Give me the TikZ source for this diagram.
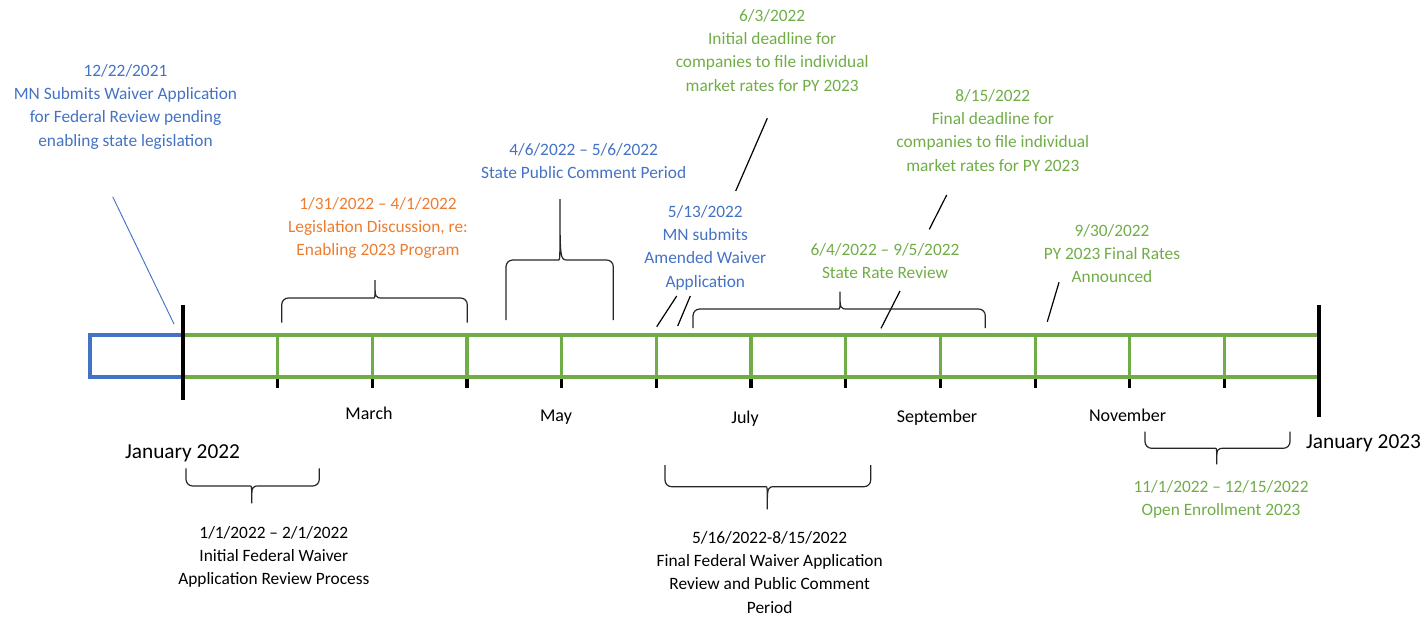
\documentclass[tikz,border=0pt]{standalone}
\usepackage{fontspec}
\setmainfont{Carlito}
\usepackage{tikz}
\definecolor{mnblue}{HTML}{4472C4}
\definecolor{mnorange}{HTML}{ED7D31}
\definecolor{mngreen}{HTML}{70AD47}
\def\monthsep{94.67}
% word-like curly bracket: x1, x2, y of arms, y of bar, x of tip, y of tip
\newcommand{\wbrace}[6]{\draw[brc] (#1,#3) [rounded corners=5pt] |- (#5-8,#4) [sharp corners] .. controls (#5,#4) .. (#5,#6) .. controls (#5,#4) .. (#5+8,#4) [rounded corners=5pt] -| (#2,#3);}

\begin{document}
\begin{tikzpicture}[x=0.75pt,y=-0.75pt]
		\tikzstyle{lbl}=[inner sep=0pt, anchor=base, align=center, font=\fontsize{13}{17.55}\selectfont]
		\tikzstyle{mon}=[inner sep=0pt, anchor=base, font=\fontsize{13.5}{16}\selectfont]
		\tikzstyle{yr}=[inner sep=0pt, anchor=base, font=\fontsize{16}{19}\selectfont]
		\tikzstyle{rail}=[mngreen, line width=2.3pt]
		\tikzstyle{bar}=[black, line width=2.3pt]
		\tikzstyle{brc}=[black!85, line width=0.9pt]
		\tikzstyle{ptr}=[black, line width=0.9pt]

		\useasboundingbox (0,0) rectangle (1426,618);

		% Draw the timeline
		\draw[mnblue, line width=2.3pt] (183,335) -- (90,335) -- (90,377) -- (183,377);
		\foreach \i in {1,...,11} {
			\draw[bar] (183+\i*\monthsep,378) -- (183+\i*\monthsep,388);
			\draw[rail] (183+\i*\monthsep,335) -- (183+\i*\monthsep,377);
		}
		\draw[rail] (183,335) -- (1319,335);
		\draw[rail] (183,377) -- (1319,377);
		\draw[bar] (183,305) -- (183,400);
		\draw[bar] (1319,305) -- (1319,417);

		% Draw month names
		\node[yr] (jan22) at (182.5,458) {January 2022};
		\node[mon] (mar) at (369,419.5) {March};
		\node[mon] (may) at (556,421.5) {May};
		\node[mon] (jul) at (745,423.5) {July};
		\node[mon] (sep) at (937,422.5) {September};
		\node[mon] (nov) at (1127.5,421.5) {November};
		\node[yr] (jan23) at (1363.5,448.5) {January 2023};

		% Draw labels above (placed at the baseline of their last line)
		\node[lbl, mnblue] (waiver) at (125.5,146.2) {12/22/2021\\MN Submits Waiver Application\\for Federal Review pending\\enabling state legislation};
		\node[lbl, mnorange] (legis) at (378,255.8) {1/31/2022 – 4/1/2022\\Legislation Discussion, re:\\Enabling 2023 Program};
		\node[lbl, mnblue] (comment) at (583.6,178.4) {4/6/2022 – 5/6/2022\\State Public Comment Period};
		\node[lbl, mngreen] (initdl) at (772.2,91.2) {6/3/2022\\Initial deadline for\\companies to file individual\\market rates for PY 2023};
		\node[lbl, mnblue] (amended) at (705.3,287.2) {5/13/2022\\MN submits\\Amended Waiver\\Application};
		\node[lbl, mngreen] (finaldl) at (992.8,171.2) {8/15/2022\\Final deadline for\\companies to file individual\\market rates for PY 2023};
		\node[lbl, mngreen] (review) at (885,278.4) {6/4/2022 – 9/5/2022\\State Rate Review};
		\node[lbl, mngreen] (rates) at (1112,282.8) {9/30/2022\\PY 2023 Final Rates\\Announced};

		% Draw labels below
		\node[lbl] (fedinit) at (273.8,584.8) {1/1/2022 – 2/1/2022\\Initial Federal Waiver\\Application Review Process};
		\node[lbl] (fedfinal) at (769.7,613.2) {5/16/2022-8/15/2022\\Final Federal Waiver Application\\Review and Public Comment\\Period};
		\node[lbl, mngreen] (enroll) at (1221,515.4) {11/1/2022 – 12/15/2022\\Open Enrollment 2023};

		% Draw pointer lines
		\coordinate (w1) at (112.7,196.7);  \coordinate (w2) at (174,324);
		\coordinate (i1) at (767.3,118.3);  \coordinate (i2) at (735.7,191);
		\coordinate (a1) at (676.7,296);    \coordinate (a2) at (656.7,326.7);
		\coordinate (b1) at (690.3,296);    \coordinate (b2) at (677.7,326);
		\coordinate (f1) at (946.7,195);    \coordinate (f2) at (929.3,229.3);
		\coordinate (r1) at (900,291);      \coordinate (r2) at (881,328.3);
		\coordinate (p1) at (1059,282.3);   \coordinate (p2) at (1047.3,321.7);
		\draw[mnblue, line width=0.7pt] (w1) -- (w2);
		\draw[ptr] (i1) -- (i2);
		\draw[ptr] (a1) -- (a2);
		\draw[ptr] (b1) -- (b2);
		\draw[ptr] (f1) -- (f2);
		\draw[ptr] (r1) -- (r2);
		\draw[ptr] (p1) -- (p2);

		% Draw braces
		\wbrace{281.7}{467.3}{322.7}{298}{375}{280}
		\wbrace{506}{613.3}{320}{260}{560}{199}
		\wbrace{693}{985.3}{328}{309}{840}{291.7}
		\wbrace{186}{319.3}{468.3}{486}{251.7}{503.3}
		\wbrace{665}{870.7}{465}{486.7}{767.3}{509.3}
		\wbrace{1145}{1290}{431.7}{448.3}{1216.7}{464.3}

		\end{tikzpicture}
\end{document}
